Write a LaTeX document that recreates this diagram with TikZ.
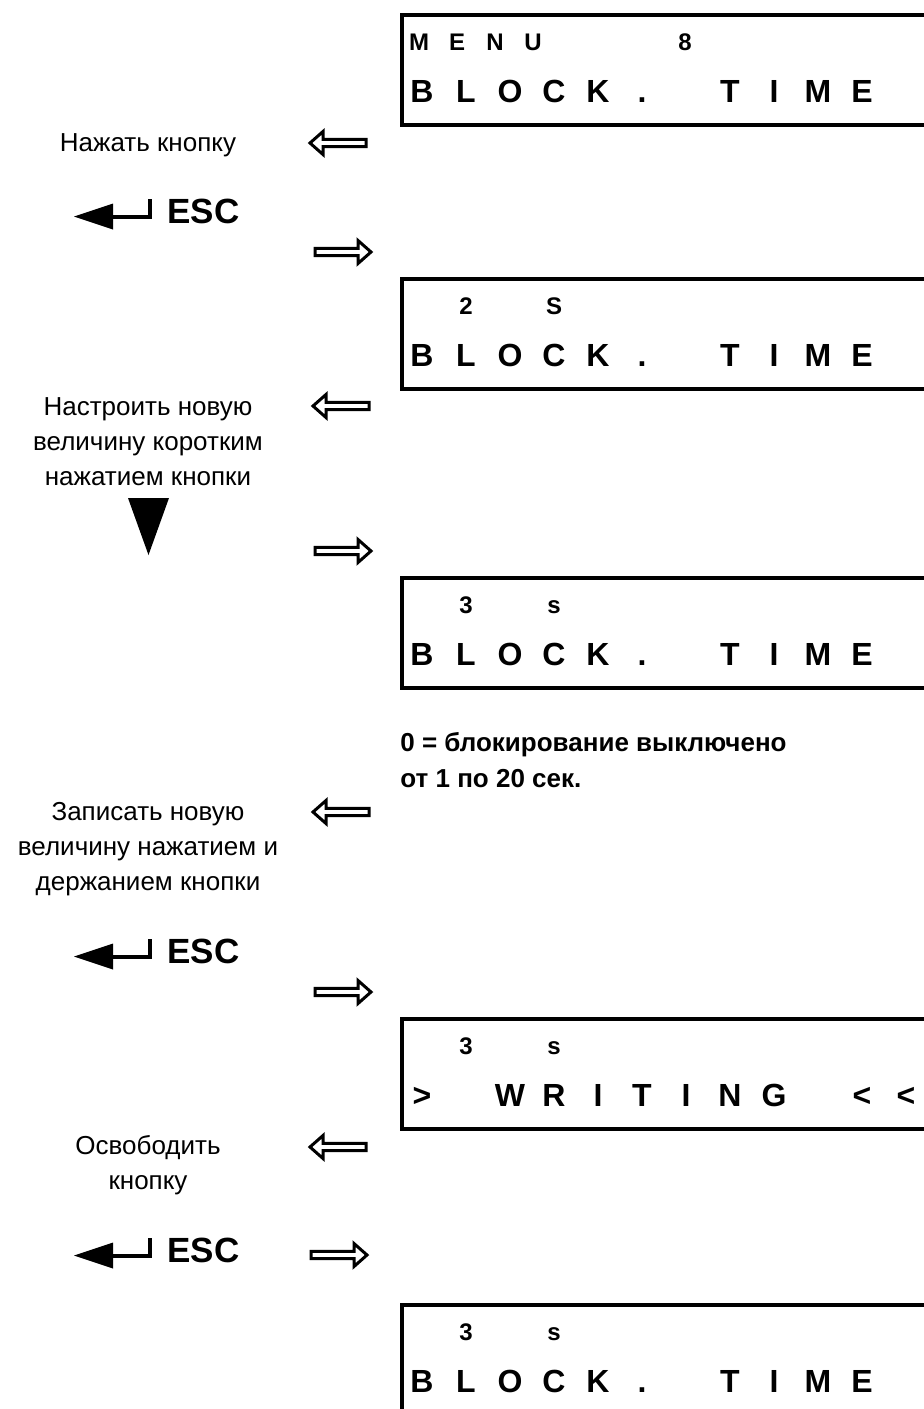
\documentclass[tikz,border=0pt]{standalone}
\usepackage{fontspec}
\setmainfont{Liberation Sans}

\tikzset{
  lcd/.style={draw, line width=1.8pt, anchor=north west, inner sep=0pt, minimum width=320pt, minimum height=55pt},
  lcdbig/.style={font=\bfseries\fontsize{16}{16}\selectfont, anchor=base, inner sep=0pt},
  lcdsmall/.style={font=\bfseries\fontsize{12}{12}\selectfont, anchor=base, inner sep=0pt},
  hint/.style={font=\fontsize{13}{17.5}\selectfont, align=center, anchor=north, inner sep=0pt},
  remark/.style={font=\bfseries\fontsize{13}{18}\selectfont, align=left, anchor=north west, inner sep=0pt},
  esckey/.style={font=\bfseries\fontsize{17.5}{17.5}\selectfont, anchor=base west, inner sep=0pt},
  hollowarrow/.pic={\draw[line width=1.5pt] (0,0) -- (13,-11.5) -- (13,-3.6) -- (56,-3.6) -- (56,3.6) -- (13,3.6) -- (13,11.5) -- cycle;}
}

\begin{document}
\begin{tikzpicture}[x=0.5pt,y=-0.5pt]

\useasboundingbox (0,0) rectangle (923,1409);

\node[lcd] (lcd1) at (400,13) {};
\node[lcd] (lcd2) at (400,277) {};
\node[lcd] (lcd3) at (400,576) {};
\node[lcd] (lcd4) at (400,1017) {};
\node[lcd] (lcd5) at (400,1303) {};

\foreach \k/\c in {0/M,1/E,2/N,3/U,7/8}
  \node[lcdsmall] (menu\k) at (419+38*\k,50) {\c};
\foreach \k/\c in {1/2,3/S}
  \node[lcdsmall] (set\k) at (422+44*\k,314) {\c};
\foreach \t in {576,1017,1303}
  \foreach \k/\c in {1/3,3/s}
    \node[lcdsmall] (val\t-\k) at (422+44*\k,\t+37) {\c};
\foreach \t in {13,277,576,1303}
  \foreach \k/\c in {0/B,1/L,2/O,3/C,4/K,5/.,7/T,8/I,9/M,10/E}
    \node[lcdbig] (blk\t-\k) at (422+44*\k,\t+89) {\c};
\foreach \k/\c in {0/>,2/W,3/R,4/I,5/T,6/I,7/N,8/G,10/<,11/<}
  \node[lcdbig] (wr\k) at (422+44*\k,1106) {\c};

\node[hint] (press) at (148,133) {Нажать кнопку};
\node[hint] (adjust) at (148,397) {Настроить новую\\величину коротким\\нажатием кнопки};
\node[hint] (store) at (148,802) {Записать новую\\величину нажатием и\\держанием кнопки};
\node[hint] (release) at (148,1135) {Освободить\\кнопку};

\node[remark] (range) at (400,732) {0 = блокирование выключено\\от 1 по 20 сек.};

\foreach \o/\n in {0/1,740/2,1039/3} {
  \node[esckey] (esc\n) at (167,223+\o) {ESC};
  \fill (74,216.5+\o) -- (113,203.5+\o) -- (113,229.5+\o) -- cycle;
  \draw[line width=2pt] (110,216.5+\o) -- (150,216.5+\o) -- (150,199+\o);
}

\fill (128,498) -- (169,498) -- (148.5,555) -- cycle;

\pic at (310,143) {hollowarrow};
\pic at (313,406) {hollowarrow};
\pic at (313,812) {hollowarrow};
\pic at (310,1147) {hollowarrow};
\pic[rotate=180] at (371,252) {hollowarrow};
\pic[rotate=180] at (371,551) {hollowarrow};
\pic[rotate=180] at (371,992) {hollowarrow};
\pic[rotate=180] at (367,1255) {hollowarrow};

\end{tikzpicture}
\end{document}
